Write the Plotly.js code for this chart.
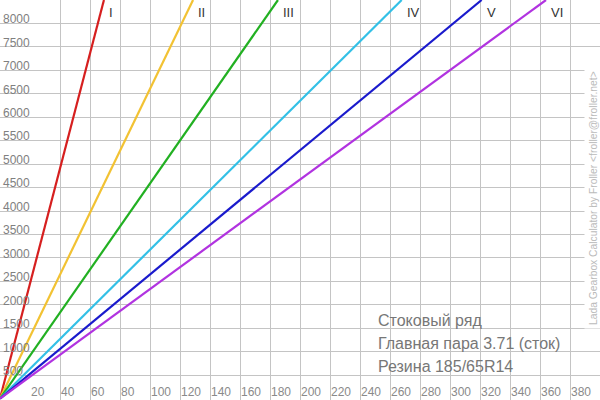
<!DOCTYPE html>
<html><head><meta charset="utf-8">
<script src="https://cdn.plot.ly/plotly-3.0.1.min.js"></script>
<style>html,body{margin:0;padding:0;background:#fff}#chart{width:600px;height:400px}</style>
</head><body><div id="chart"></div>
<script>
// Data
var gearNames = ['I', 'II', 'III', 'IV', 'V', 'VI'];
var rpmPoints = [0, 8500];
var speedI   = [0, 69.3];
var speedII  = [0, 128.7];
var speedIII = [0, 185.3];
var speedIV  = [0, 267.8];
var speedV   = [0, 321.1];
var speedVI  = [0, 364.0];
var speedTicks = [20,40,60,80,100,120,140,160,180,200,220,240,260,280,300,320,340,360,380];
var rpmTicks = [500,1000,1500,2000,2500,3000,3500,4000,4500,5000,5500,6000,6500,7000,7500,8000];
var infoLines = ['Стоковый ряд', 'Главная пара 3.71 (сток)', 'Резина 185/65R14'];
var credit = 'Lada Gearbox Calculator by Froller <froller@froller.net>';

var speeds = [speedI, speedII, speedIII, speedIV, speedV, speedVI];
var colors = ['#d61f1f', '#f2c233', '#22b022', '#33c0e6', '#1a1acc', '#b133e0'];
var FONT = 'Liberation Sans, Arial, sans-serif';

var traces = speeds.map(function (s, i) {
  return { x: s, y: rpmPoints, type: 'scatter', mode: 'lines', name: gearNames[i],
    line: { color: colors[i], width: 2.2 }, hoverinfo: 'skip' };
});

var annotations = speeds.map(function (s, i) {
  return { x: s[1], y: 1 - 12 / 400, xref: 'x', yref: 'paper', text: gearNames[i],
    showarrow: false, xanchor: 'left', yanchor: 'middle', xshift: 3,
    font: { family: FONT, size: 13, color: '#333' } };
});

// x tick labels (inside the plot, right of each grid line)
speedTicks.forEach(function (v) {
  annotations.push({ x: v, y: 1 - 392 / 400, xref: 'x', yref: 'paper', text: String(v),
    showarrow: false, xanchor: 'left', yanchor: 'middle', xshift: 0, borderpad: 0,
    font: { family: FONT, size: 12, color: '#8a8a8a' } });
});

var infoY = [1 - 320 / 400, 1 - 343 / 400, 1 - 366 / 400];
infoLines.forEach(function (t, i) {
  annotations.push({ x: 376 / 600, y: infoY[i], xref: 'paper', yref: 'paper', text: t,
    showarrow: false, xanchor: 'left', yanchor: 'middle',
    font: { family: FONT, size: 16, color: '#777' } });
});
annotations.push({ x: 593 / 600, y: 1 - 198 / 400, xref: 'paper', yref: 'paper',
  text: credit.replace(/</g, '&lt;').replace(/>/g, '&gt;'),
  showarrow: false, textangle: -90, xanchor: 'center', yanchor: 'middle',
  bgcolor: '#fff', borderpad: 3,
  font: { family: FONT, size: 10.3, color: '#bbb' } });

var layout = {
  width: 600, height: 400,
  margin: { l: 0, r: 0, t: 0, b: 0, pad: 0 },
  paper_bgcolor: '#fff', plot_bgcolor: '#fff',
  showlegend: false,
  font: { family: FONT, size: 12, color: '#888' },
  xaxis: { range: [0, 400], tickvals: speedTicks, showticklabels: false,
    ticks: '', showgrid: true, gridcolor: '#c4c4c4', gridwidth: 1,
    zeroline: false, showline: false, fixedrange: true },
  yaxis: { range: [-30, 8500], tickvals: rpmTicks, ticktext: rpmTicks.map(String),
    ticklabelposition: 'inside top', ticklabelshift: 4, ticks: '', showgrid: true, gridcolor: '#c4c4c4', gridwidth: 1,
    zeroline: false, showline: false, fixedrange: true,
    tickfont: { family: FONT, size: 12, color: '#808080' } },
  shapes: [{ type: 'rect', xref: 'paper', yref: 'paper', x0: 368 / 600, x1: 568 / 600,
    y0: 1 - 376 / 400, y1: 1 - 306 / 400, fillcolor: '#fff', line: { width: 0 }, layer: 'between' }],
  annotations: annotations
};

Plotly.newPlot('chart', traces, layout, { staticPlot: true, displayModeBar: false });
</script>
</body></html>
